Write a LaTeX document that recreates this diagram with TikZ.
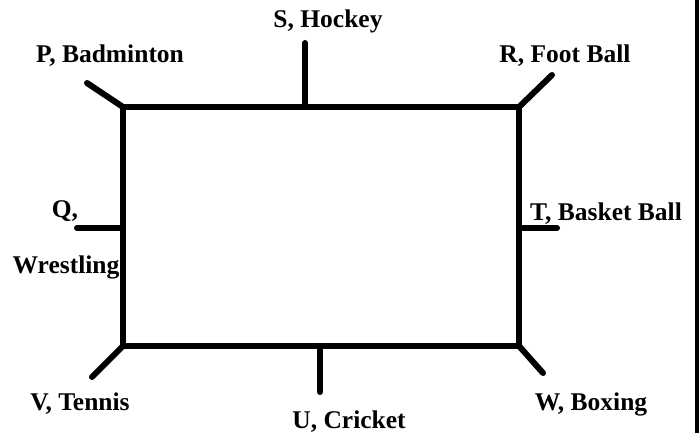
\documentclass[tikz,border=0pt]{standalone}
\usepackage{fontspec}
\setmainfont{Liberation Serif}
\newcommand{\hallScale}[0]{1pt}
\newcommand{\sport}[1]{\textbf{#1}}

\begin{document}
\begin{tikzpicture}[x=\hallScale, y=-\hallScale]
  \tikzset{every node/.style={font=\fontsize{25.5}{30}\selectfont, inner sep=0pt, anchor=base},
    wall/.style={line width=6pt, line join=miter},
    stub/.style={line width=6pt, line cap=round}}
  \useasboundingbox (0,0) rectangle (699,433);
  \fill (695,0) rectangle (699,433);
  \coordinate (NW) at (123,107);
  \coordinate (NE) at (519,107);
  \coordinate (SE) at (519,346);
  \coordinate (SW) at (123,346);
  \coordinate (N) at (305,107);
  \coordinate (S) at (320,346);
  \coordinate (W) at (123,228);
  \coordinate (E) at (519,228);
  \draw[wall] (NW) -- (NE) -- (SE) -- (SW) -- cycle;
  \coordinate (P) at (87,83);
  \coordinate (Q) at (77,228);
  \coordinate (R) at (552,75);
  \coordinate (Sp) at (305,43);
  \coordinate (T) at (557,228);
  \coordinate (U) at (320,392);
  \coordinate (V) at (92,377);
  \coordinate (Wp) at (543,373);
  \draw[stub] (NW) -- (P);
  \draw[stub] (W) -- (Q);
  \draw[stub] (NE) -- (R);
  \draw[stub] (N) -- (Sp);
  \draw[stub] (E) -- (T);
  \draw[stub] (S) -- (U);
  \draw[stub] (SW) -- (V);
  \draw[stub] (SE) -- (Wp);
  \node (P-name) at (110,63) {\sport{P, Badminton}};
  \node (Q-name) at (65,217) {\sport{Q,}};
  \node (Q-name2) at (66,273) {\sport{Wrestling}};
  \node (R-name) at (565,63) {\sport{R, Foot Ball}};
  \node (S-name) at (328,28) {\sport{S, Hockey}};
  \node (T-name) at (606,220) {\sport{T, Basket Ball}};
  \node (U-name) at (349,428) {\sport{U, Cricket}};
  \node (V-name) at (80,410) {\sport{V, Tennis}};
  \node (W-name) at (591,410) {\sport{W, Boxing}};
\end{tikzpicture}
\end{document}
